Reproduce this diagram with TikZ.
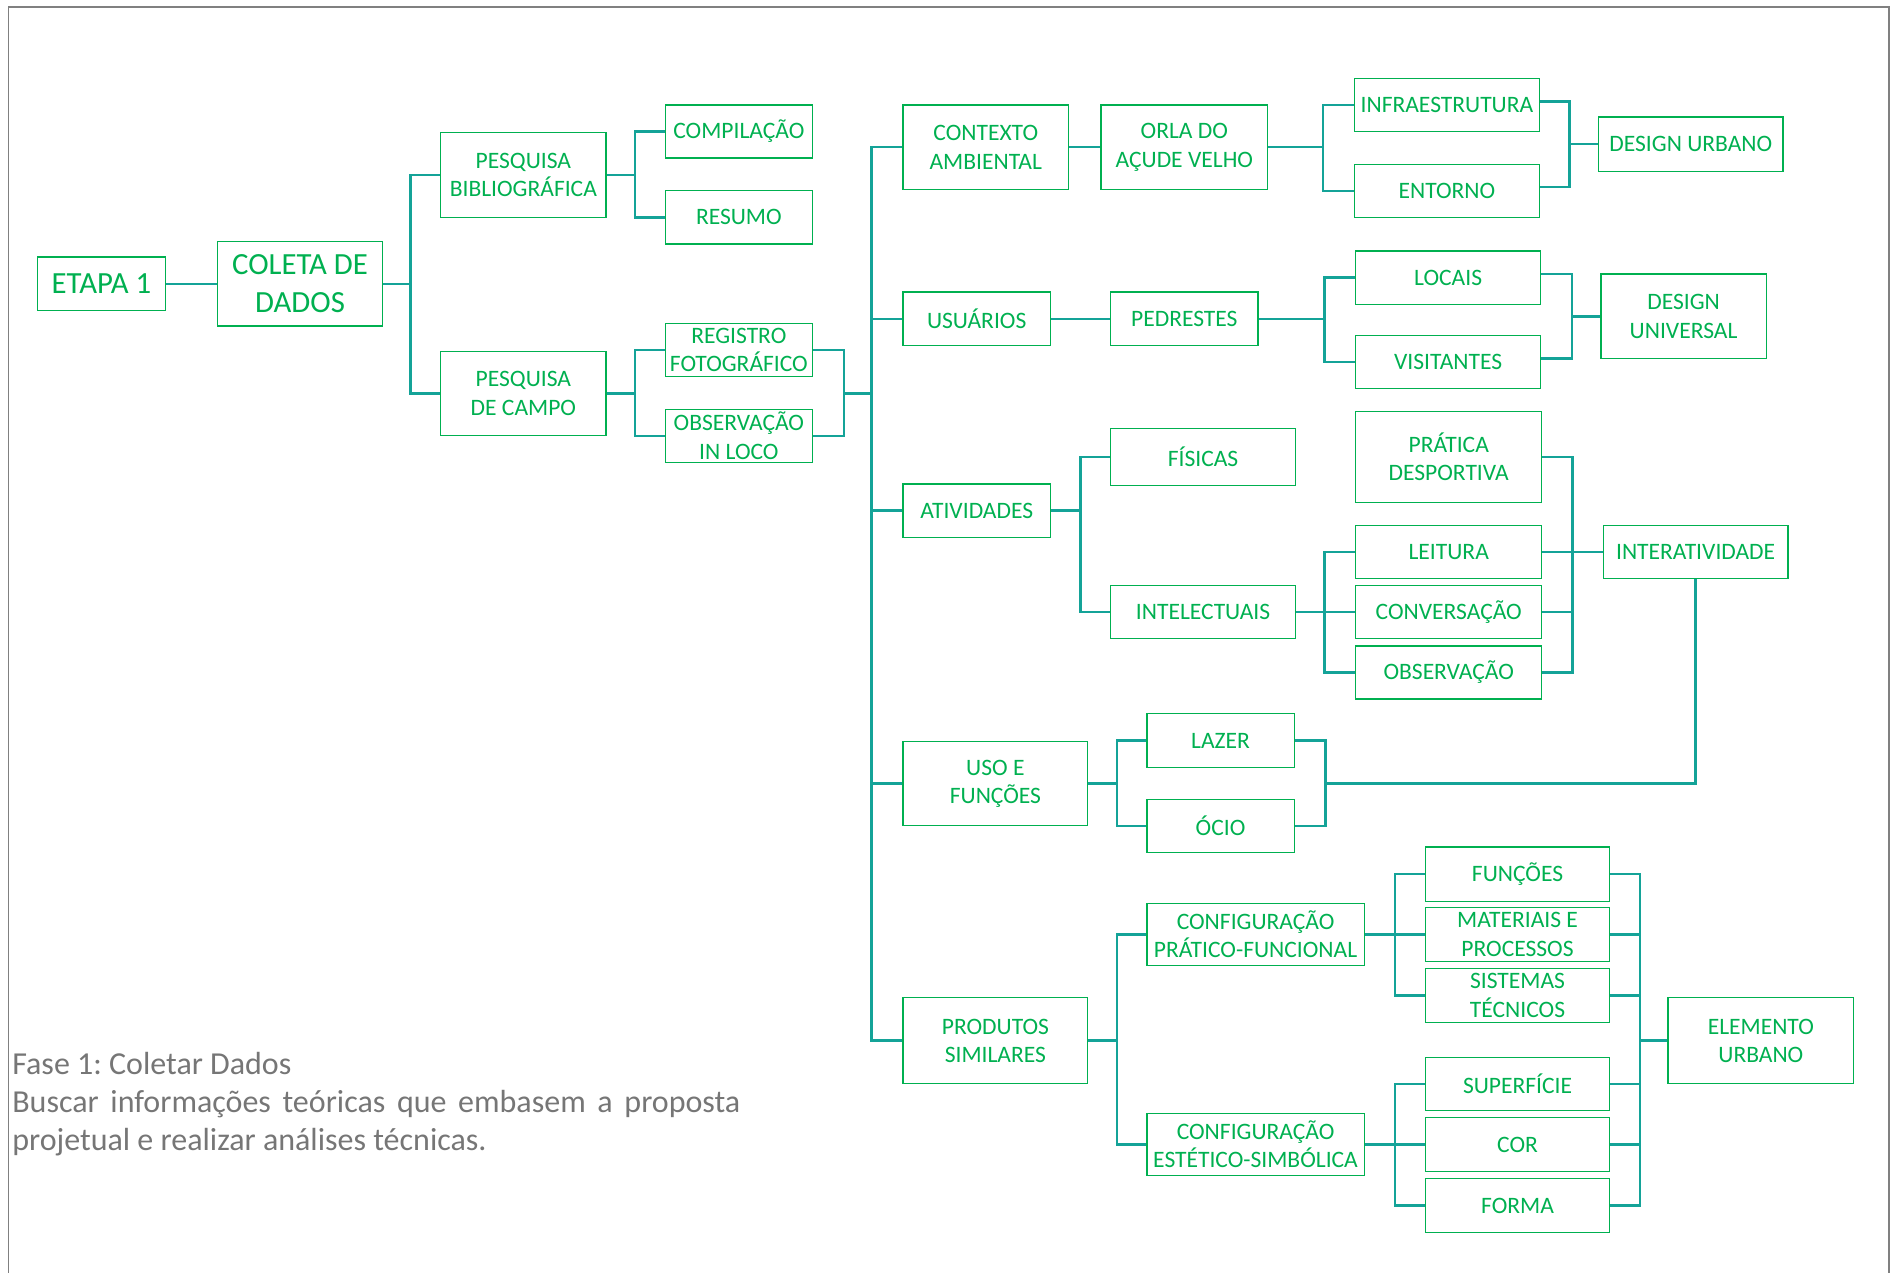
\documentclass[tikz,border=0pt]{standalone}
\usepackage{fontspec}
\setmainfont{Carlito}
\usetikzlibrary{positioning}
\setlength{\parindent}{0pt}
\frenchspacing
\definecolor{boxGreen}{RGB}{0,176,80}
\definecolor{linkTeal}{RGB}{20,163,152}
\definecolor{frameGray}{RGB}{128,128,128}
\definecolor{textGray}{RGB}{118,118,118}

\begin{document}
\begin{tikzpicture}[x=1pt, y=-1pt,
    box/.style={draw=boxGreen, line width=1.1pt, text=boxGreen, inner sep=0pt, align=center, font=\fontsize{19.5}{23.5}\selectfont},
    bigBox/.style={box, font=\fontsize{25.5}{31.5}\selectfont},
    link/.style={draw=linkTeal, line width=2pt}]
\useasboundingbox (0,0) rectangle (1568,1054);
\draw[frameGray, line width=1.5pt] (7,1060) -- (7,5.5) -- (1565,5.5) -- (1565,1060);

\node[bigBox, minimum width=106, minimum height=44] (etapaUm) at (84,235) {ETAPA 1};
\node[bigBox, minimum width=137, minimum height=70] (coletaDados) at (248.5,235) {COLETA DE\\DADOS};
\node[box, minimum width=137, minimum height=70] (pesqBiblio) at (433.5,145) {PESQUISA\\BIBLIOGRÁFICA};
\node[box, minimum width=137, minimum height=70] (pesqCampo) at (433.5,326) {PESQUISA\\DE CAMPO};
\node[box, minimum width=122, minimum height=44] (compilacao) at (612,109) {COMPILAÇÃO};
\node[box, minimum width=122, minimum height=44] (resumo) at (612,180) {RESUMO};
\node[box, minimum width=122, minimum height=44] (registro) at (612,290) {REGISTRO\\FOTOGRÁFICO};
\node[box, minimum width=122, minimum height=44] (obsLoco) at (612,361) {OBSERVAÇÃO\\IN LOCO};

\node[box, minimum width=137, minimum height=70] (contexto) at (816.5,122) {CONTEXTO\\AMBIENTAL};
\node[box, minimum width=138, minimum height=70] (orla) at (981,122) {ORLA DO\\AÇUDE VELHO};
\node[box, minimum width=153, minimum height=44] (infra) at (1198.5,87) {INFRAESTRUTURA};
\node[box, minimum width=153, minimum height=44] (entorno) at (1198.5,158) {ENTORNO};
\node[box, minimum width=153, minimum height=45] (designUrb) at (1400.5,119.5) {DESIGN URBANO};

\node[box, minimum width=122, minimum height=44] (usuarios) at (809,264) {USUÁRIOS};
\node[box, minimum width=122, minimum height=44] (pedrestes) at (981,264) {PEDRESTES};
\node[box, minimum width=153, minimum height=44] (locais) at (1199.5,230) {LOCAIS};
\node[box, minimum width=153, minimum height=44] (visitantes) at (1199.5,300) {VISITANTES};
\node[box, minimum width=137, minimum height=70] (designUni) at (1394.5,262) {DESIGN\\UNIVERSAL};

\node[box, minimum width=122, minimum height=44] (atividades) at (809,423) {ATIVIDADES};
\node[box, minimum width=153, minimum height=47] (fisicas) at (996.5,378.5) {FÍSICAS};
\node[box, minimum width=153, minimum height=44] (intelect) at (996.5,507) {INTELECTUAIS};
\node[box, minimum width=154, minimum height=75] (pratica) at (1200,378.5) {PRÁTICA\\DESPORTIVA};
\node[box, minimum width=154, minimum height=44] (leitura) at (1200,457) {LEITURA};
\node[box, minimum width=154, minimum height=44] (conversa) at (1200,507) {CONVERSAÇÃO};
\node[box, minimum width=154, minimum height=44] (observa) at (1200,557) {OBSERVAÇÃO};
\node[box, minimum width=153, minimum height=44] (interat) at (1404.5,457) {INTERATIVIDADE};

\node[box, minimum width=153, minimum height=70] (usoFunc) at (824.5,649) {USO E\\FUNÇÕES};
\node[box, minimum width=122, minimum height=45] (lazer) at (1011,613.5) {LAZER};
\node[box, minimum width=122, minimum height=44] (ocio) at (1011,684) {ÓCIO};

\node[box, minimum width=153, minimum height=71] (produtos) at (824.5,862) {PRODUTOS\\SIMILARES};
\node[box, minimum width=180, minimum height=51] (confPF) at (1040,774) {CONFIGURAÇÃO\\PRÁTICO-FUNCIONAL};
\node[box, minimum width=180, minimum height=51] (confES) at (1040,948) {CONFIGURAÇÃO\\ESTÉTICO-SIMBÓLICA};
\node[box, minimum width=152, minimum height=45] (funcoes) at (1257,724) {FUNÇÕES};
\node[box, minimum width=152, minimum height=45] (materiais) at (1257,774) {MATERIAIS E\\PROCESSOS};
\node[box, minimum width=152, minimum height=45] (sistemas) at (1257,824.5) {SISTEMAS\\TÉCNICOS};
\node[box, minimum width=152, minimum height=44] (superficie) at (1257,898) {SUPERFÍCIE};
\node[box, minimum width=152, minimum height=45] (cor) at (1257,948) {COR};
\node[box, minimum width=152, minimum height=45] (forma) at (1257,998.5) {FORMA};
\node[box, minimum width=154, minimum height=71] (elemento) at (1458.5,862) {ELEMENTO\\URBANO};

\coordinate (jColeta) at (340,235);
\coordinate (jBiblio) at (526,145);
\coordinate (jCampo) at (526,326);
\coordinate (jFoto) at (699,326);
\coordinate (jTrunk) at (722,326);
\coordinate (jOrla) at (1096,122);
\coordinate (jUrbano) at (1300,119.5);
\coordinate (jPedrestes) at (1097,264);
\coordinate (jUniversal) at (1302,262);
\coordinate (jAtividades) at (895,423);
\coordinate (jIntelect) at (1097,507);
\coordinate (jInterativ) at (1302.5,457);
\coordinate (jUsoFunc) at (925,649);
\coordinate (jLazer) at (1098,649);
\coordinate (jProdutos) at (925,862);
\coordinate (jPratico) at (1155.5,774);
\coordinate (jEstetico) at (1155.5,948);
\coordinate (jElemento) at (1358.5,862);

\draw[link] (etapaUm) -- (coletaDados);
\draw[link] (coletaDados.east) -- (jColeta) (pesqBiblio.west) -| (jColeta) |- (pesqCampo.west);
\draw[link] (pesqBiblio.east) -- (jBiblio) (compilacao.west) -| (jBiblio) |- (resumo.west);
\draw[link] (pesqCampo.east) -- (jCampo) (registro.west) -| (jCampo) |- (obsLoco.west);
\draw[link] (registro.east) -| (jFoto) |- (obsLoco.east) (jFoto) -- (jTrunk);
\draw[link] (contexto.west) -| (jTrunk) |- (produtos.west) (usuarios.west) -| (jTrunk) (atividades.west) -| (jTrunk) (usoFunc.west) -| (jTrunk);

\draw[link] (contexto) -- (orla);
\draw[link] (orla.east) -- (jOrla) (infra.west) -| (jOrla) |- (entorno.west);
\draw[link] ([yshift=3pt]infra.east) -| (jUrbano) |- ([yshift=3pt]entorno.east) (jUrbano) -- (designUrb.west);

\draw[link] (usuarios) -- (pedrestes);
\draw[link] (pedrestes.east) -- (jPedrestes) (locais.west) -| (jPedrestes) |- (visitantes.west);
\draw[link] ([yshift=3pt]locais.east) -| (jUniversal) |- ([yshift=3pt]visitantes.east) (jUniversal) -- (designUni.west);

\draw[link] (atividades.east) -- (jAtividades) (fisicas.west) -| (jAtividades) |- (intelect.west);
\draw[link] (intelect.east) -- (jIntelect) (leitura.west) -| (jIntelect) |- (observa.west) (jIntelect) -- (conversa.west);
\draw[link] (pratica.east) -| (jInterativ) |- (observa.east) (leitura.east) -- (interat.west) (conversa.east) -| (jInterativ);

\draw[link] (usoFunc.east) -- (jUsoFunc) (lazer.west) -| (jUsoFunc) |- (ocio.west);
\draw[link] (lazer.east) -| (jLazer) |- (ocio.east) (jLazer) -| (interat.south);

\draw[link] (produtos.east) -- (jProdutos) (confPF.west) -| (jProdutos) |- (confES.west);
\draw[link] (confPF.east) -- (jPratico) (funcoes.west) -| (jPratico) |- (sistemas.west) (jPratico) -- (materiais.west);
\draw[link] (confES.east) -- (jEstetico) (superficie.west) -| (jEstetico) |- (forma.west) (jEstetico) -- (cor.west);
\draw[link] (funcoes.east) -| (jElemento) |- (forma.east) (materiais.east) -| (jElemento) (sistemas.east) -| (jElemento) (superficie.east) -| (jElemento) (cor.east) -| (jElemento) (jElemento) -- (elemento.west);

\node[anchor=north west, inner sep=0pt, text=textGray, text width=603pt, align=justify, font=\fontsize{26.5}{31.5}\selectfont] (descFase) at (10,871) {Fase 1: Coletar Dados\\Buscar informações teóricas que embasem a proposta\linebreak projetual e realizar análises técnicas.};
\end{tikzpicture}
\end{document}
